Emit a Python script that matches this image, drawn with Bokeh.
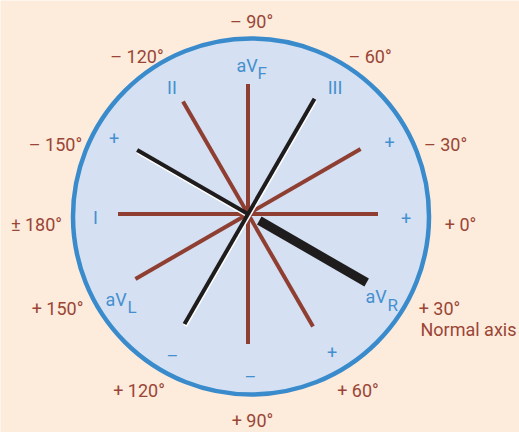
import numpy as np
from bokeh.plotting import figure
from bokeh.models import Range1d
from bokeh.core.properties import value
from bokeh.embed import file_html
from bokeh.resources import INLINE

# ---------------- data ----------------
axis_names = ["I", "II", "III", "aVR", "aVL", "aVF"]
axis_deg = [0, 60, 120, -150, -30, 90]

degree_labels = ["– 90°", "– 120°", "– 60°", "– 150°", "– 30°", "± 180°",
                 "+ 0°", "+ 150°", "+ 30°", "+ 120°", "+ 60°", "+ 90°"]
normal_label = "Normal axis"
lead_labels = ["II", "III", "I"]
pole_labels = ["+", "+", "+", "–", "–", "+"]
avx_main = ["aV", "aV", "aV"]
avx_sub = ["F", "L", "R"]

# ---------------- style / layout ----------------
BG = "#FDEBDC"
FILL = "#D5E0F2"
RING = "#3A8BCC"
BROWN = "#8F3E32"
BROWN_T = "#9A4535"
BLUE_T = "#4490CF"
FONT = value("Roboto")
DY = -7.0  # baseline correction for the svg text renderer

cx, cy = 247.5, 213.5          # hub of the axes (px)
ccx, ccy, R = 250.5, 216.0, 178.0  # outer circle

p = figure(width=519, height=432, x_range=Range1d(0, 519), y_range=Range1d(432, 0),
           output_backend="svg", toolbar_location=None, min_border=0)
p.axis.visible = False
p.grid.visible = False
p.outline_line_color = None
p.background_fill_color = BG
p.border_fill_color = BG

p.circle(x=[ccx], y=[ccy], radius=R, fill_color=FILL, line_color=RING, line_width=4.5)


def seg(deg, r0, r1):
    t = np.deg2rad(deg)
    return cx + r0 * np.cos(t), cy + r0 * np.sin(t), cx + r1 * np.cos(t), cy + r1 * np.sin(t)


# brown full axes
brown = ["I", "II", "aVL", "aVF"]
bx0, by0, bx1, by1 = [], [], [], []
for n in brown:
    d = axis_deg[axis_names.index(n)]
    a = seg(d, -130, 130)
    bx0.append(a[0]); by0.append(a[1]); bx1.append(a[2]); by1.append(a[3])
p.segment(bx0, by0, bx1, by1, line_color=BROWN, line_width=4)

# black axes (III full, aVR half) with white shadow
d3 = axis_deg[axis_names.index("III")]
dR = axis_deg[axis_names.index("aVR")]
black = [seg(d3, -133, 127), seg(dR, 128, 0)]
kx0 = [s[0] for s in black]; ky0 = [s[1] for s in black]
kx1 = [s[2] for s in black]; ky1 = [s[3] for s in black]
p.segment([v + 0.6 for v in kx0], [v + 2.0 for v in ky0],
          [v + 0.6 for v in kx1], [v + 2.0 for v in ky1], line_color="white", line_width=4)
p.segment(kx0, ky0, kx1, ky1, line_color="#1E1C1C", line_width=4)
# thick aVR part on the opposite side
t = seg(dR + 180, 13, 137)
p.segment([t[0]], [t[1]], [t[2]], [t[3]], line_color="#1E1C1C", line_width=9)


def sh(ys):
    return [v + DY for v in ys]


# degree labels (brown)
deg_x = [251, 136.5, 369.5, 55, 445, 36, 460, 57, 439, 138.5, 357.5, 252]
deg_y = [27.5, 62.5, 62.5, 150.5, 150.5, 231, 230.5, 315, 315, 397, 397, 427]
p.text(x=deg_x, y=sh(deg_y), text=degree_labels, text_color=BROWN_T, text_font=FONT,
       text_font_size="18px", text_align="center", text_baseline="alphabetic")
p.text(x=[420], y=sh([335.5]), text=[normal_label], text_color=BROWN_T, text_font=FONT,
       text_font_size="18px", text_align="left", text_baseline="alphabetic")

# lead labels (blue)
p.text(x=[171.5, 334.5, 95], y=sh([94, 94, 224]), text=lead_labels, text_color=BLUE_T,
       text_font=FONT, text_font_size="18px", text_align="center", text_baseline="alphabetic")
p.text(x=[113.5, 389, 405.5, 172, 250, 331.5], y=sh([144.5, 148.5, 224.5, 362, 383, 359]),
       text=pole_labels, text_color=BLUE_T, text_font=FONT, text_font_size="18px",
       text_align="center", text_baseline="alphabetic")
p.text(x=[236, 105, 365], y=sh([72, 306, 303]), text=avx_main, text_color=BLUE_T,
       text_font=FONT, text_font_size="18px", text_align="left", text_baseline="alphabetic")
p.text(x=[257, 127, 387], y=sh([79, 313, 311]), text=avx_sub, text_color=BLUE_T,
       text_font=FONT, text_font_size="17px", text_align="left", text_baseline="alphabetic")

open("out.html", "w").write(file_html(p, INLINE))
